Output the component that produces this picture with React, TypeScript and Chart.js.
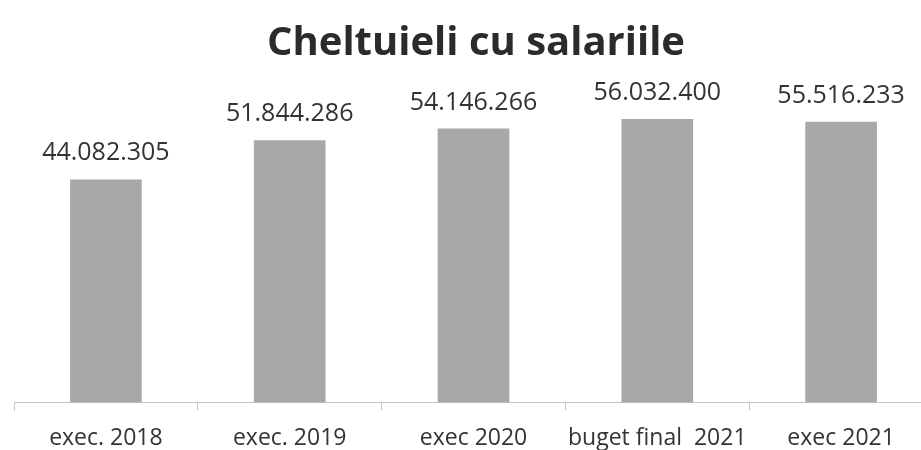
import React, { useEffect, useRef } from "react";
import { Chart, registerables } from "chart.js";

Chart.register(...registerables);

const categories = ["exec. 2018", "exec. 2019", "exec 2020", "buget final  2021", "exec 2021"];
const values = [44082305, 51844286, 54146266, 56032400, 55516233];
const valueLabels = ["44.082.305", "51.844.286", "54.146.266", "56.032.400", "55.516.233"];
const chartTitle = "Cheltuieli cu salariile";

const FONT = "'Open Sans', 'DejaVu Sans', sans-serif";

const overlay = {
  id: "overlay",
  afterDatasetsDraw(chart: any) {
    const ctx = chart.ctx;
    ctx.save();
    ctx.fillStyle = "#2b2b2b";
    ctx.font = `bold 40px ${FONT}`;
    ctx.textAlign = "center";
    ctx.textBaseline = "middle";
    ctx.fillText(chartTitle, 476, 44);
    const meta = chart.getDatasetMeta(0);
    ctx.font = `25px ${FONT}`;
    ctx.fillStyle = "#333333";
    ctx.textBaseline = "alphabetic";
    meta.data.forEach((bar: any, i: number) => {
      ctx.fillText(valueLabels[i], bar.x, bar.y - 19);
    });
    ctx.restore();
  },
};

export default function App() {
  const ref = useRef<HTMLCanvasElement>(null);
  useEffect(() => {
    const chart = new Chart(ref.current!, {
      type: "bar",
      data: {
        labels: categories,
        datasets: [
          {
            data: values,
            backgroundColor: "#a8a8a8",
            categoryPercentage: 1,
            barPercentage: 0.39,
          },
        ],
      },
      options: {
        animation: false,
        responsive: false,
        layout: { padding: { left: 14, right: 7, top: 99, bottom: 0 } },
        plugins: { legend: { display: false }, tooltip: { enabled: false }, title: { display: false } },
        scales: {
          y: { display: false, min: 0, max: 60000000 },
          x: {
            grid: { offset: true, drawOnChartArea: false, drawTicks: true, tickLength: 8, color: "#c4c4c4" },
            border: { color: "#c4c4c4", width: 1 },
            ticks: { color: "#333333", font: { family: FONT, size: 23 }, padding: 14, maxRotation: 0, autoSkip: false },
          },
        },
      },
      plugins: [overlay],
    });
    return () => chart.destroy();
  }, []);
  return (
    <div style={{ position: "fixed", left: 0, top: 0, width: 921, height: 450, overflow: "hidden", background: "#fff" }}>
      <canvas ref={ref} width={940} height={466} style={{ display: "block" }} />
    </div>
  );
}
